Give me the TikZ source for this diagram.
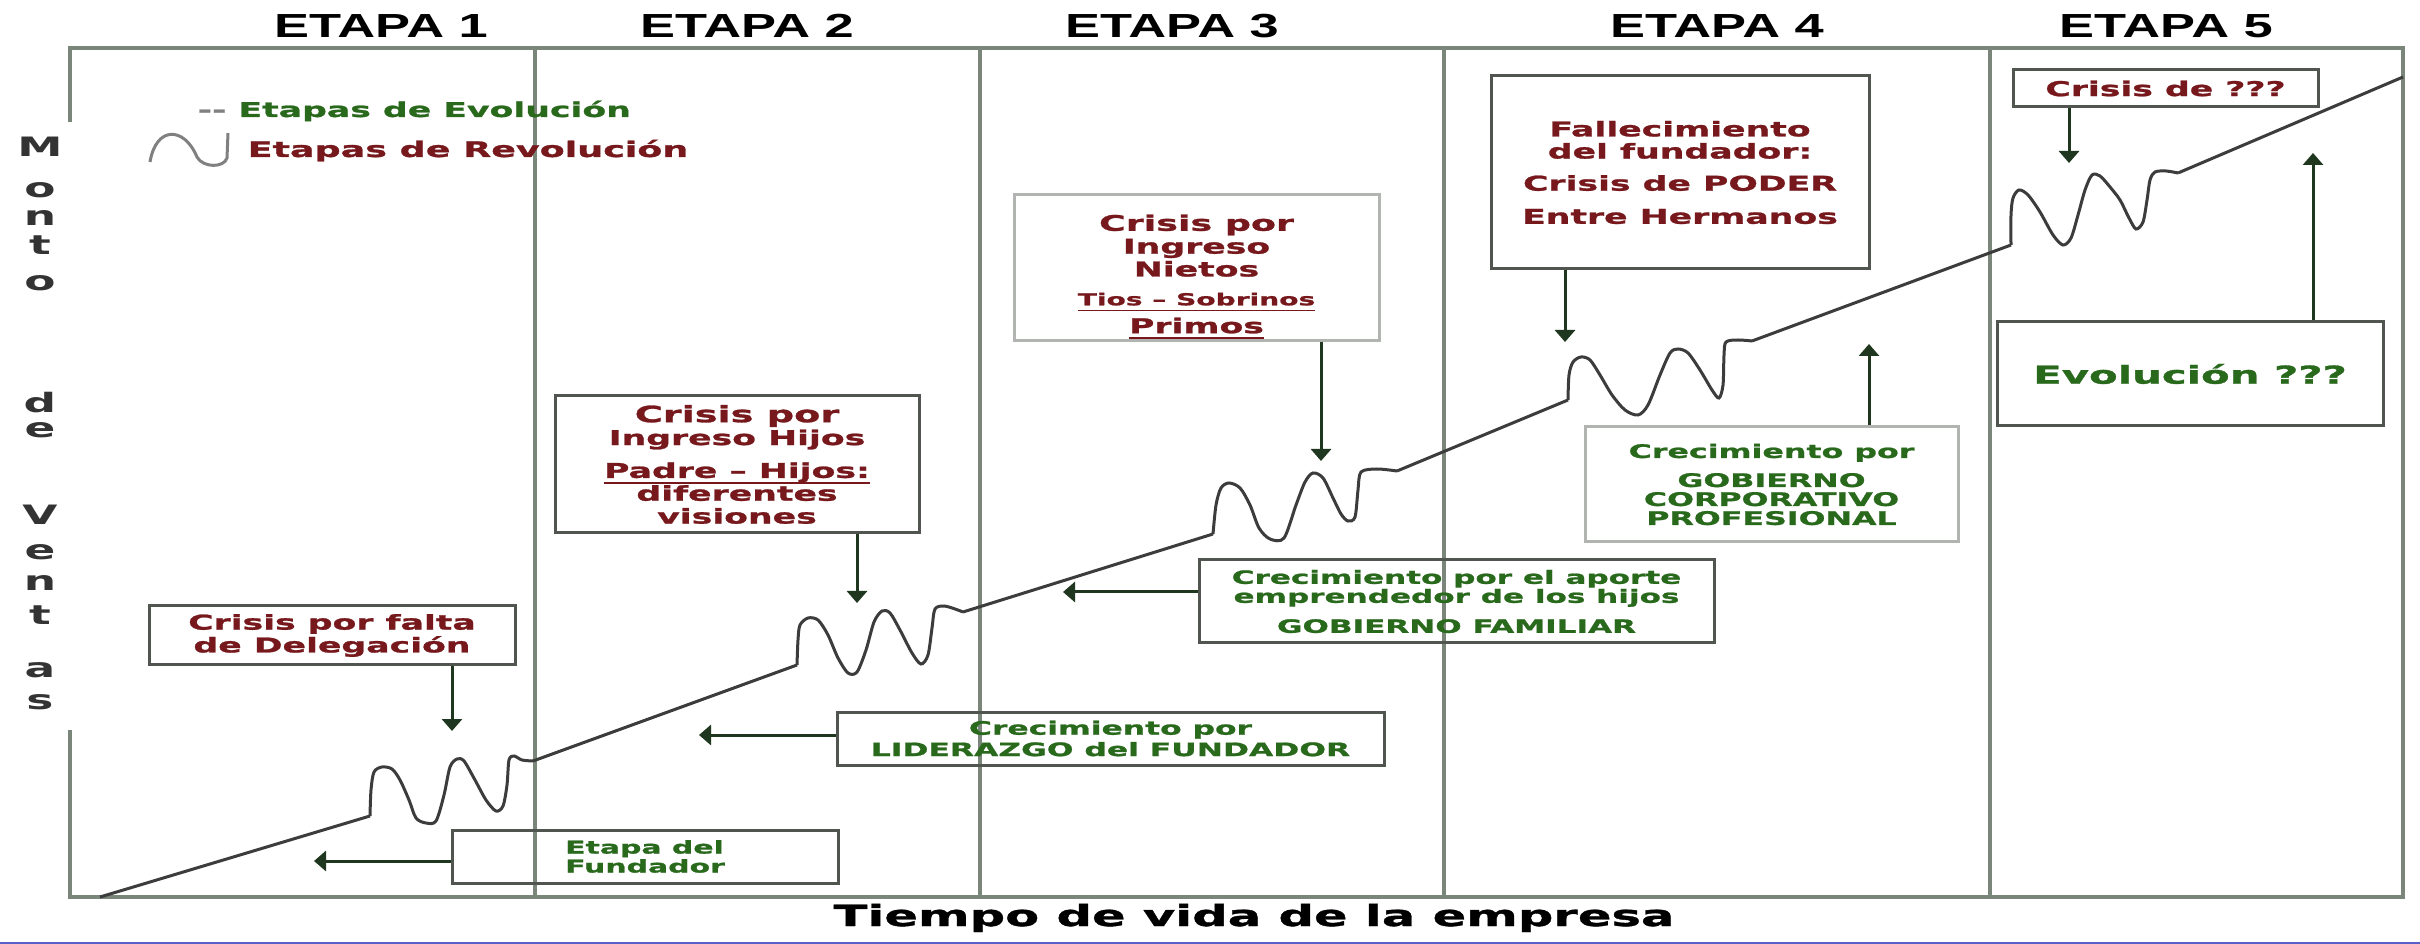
\documentclass[tikz,border=0pt]{standalone}
\usepackage{fontspec}
\newfontfamily\anchafont{DejaVu Sans}[FakeStretch=1.7, BoldFeatures={FakeBold=1.2}]
\newfontfamily\ejefont{DejaVu Sans}[FakeStretch=1.7]
\newfontfamily\etapafont{Liberation Sans}[FakeStretch=1.57]
\usetikzlibrary{arrows.meta}

\definecolor{rojotxt}{RGB}{118,24,28}
\definecolor{verdetxt}{RGB}{40,105,28}
\definecolor{grismarco}{RGB}{122,134,122}
\definecolor{griscaja}{RGB}{80,85,80}
\definecolor{grisclaro}{RGB}{178,180,178}
\definecolor{verdeosc}{RGB}{30,55,30}
\definecolor{griscurva}{RGB}{60,60,60}
\definecolor{azul}{RGB}{90,95,200}

\begin{document}
\begin{tikzpicture}[x=0.1mm, y=-0.1mm,
    marco/.style={draw=grismarco, line width=0.45mm},
    caja/.style={draw=griscaja, line width=0.3mm, inner sep=0pt, align=center},
    cajaclara/.style={caja, draw=grisclaro},
    rojo/.style={text=rojotxt, font=\anchafont\bfseries\fontsize{5.8}{6.5}\selectfont},
    verde/.style={text=verdetxt, font=\anchafont\bfseries\fontsize{5.2}{5.4}\selectfont},
    etapa/.style={anchor=base, inner sep=0pt, font=\etapafont\bfseries\fontsize{9.5}{10}\selectfont},
    eje/.style={inner sep=0pt, text=black!80, font=\ejefont\bfseries\fontsize{7.6}{8}\selectfont},
    flecha/.style={draw=verdeosc, line width=0.3mm, -{Triangle[length=1.2mm, width=2mm]}},
    curva/.style={draw=griscurva, line width=0.3mm},
  ]
  \fill[white] (0,0) rectangle (2420,944);
  \useasboundingbox (0,0) rectangle (2420,944);

  % marco y etapas
  \draw[marco] (70,122) -- (70,48) -- (2403,48) -- (2403,897) -- (70,897) -- (70,730);
  \foreach \xx in {535, 980, 1444, 1990}
    \draw[marco] (\xx,48) -- (\xx,897);
  \foreach \n/\xx in {1/381, 2/747, 3/1172, 4/1717, 5/2166}
    \node[etapa] (etapa\n) at (\xx,38) {ETAPA \n};

  % ejes
  \foreach \ch/\yy [count=\i] in {M/147, o/190, n/218, t/245, o/283, d/403, e/430,
      V/515, e/552, n/583, t/615, a/670, s/702}
    \node[eje] (eje\i) at (40,\yy) {\ch};
  \node[anchor=base, inner sep=0pt, font=\anchafont\bfseries\fontsize{8.3}{9}\selectfont]
    (tiempo) at (1254,926) {Tiempo de vida de la empresa};

  % leyenda
  \node[anchor=base west, inner sep=0pt, verde, font=\anchafont\bfseries\fontsize{5.8}{6}\selectfont]
    (evol) at (197,117) {{\color{gray}-{}-}\hspace{1.2mm}Etapas de Evolución};
  \node[anchor=base west, inner sep=0pt, rojo, font=\anchafont\bfseries\fontsize{6.1}{6.5}\selectfont]
    (revol) at (247,157) {Etapas de Revolución};
  \draw[curva, draw=gray] (150,162) .. controls (156,126) and (184,126) .. (197,157)
    .. controls (203,168) and (224,168) .. (227,158) -- (228,133);

  % curva de crecimiento
  \draw[curva] (100,897) -- (370,816);
  \draw[curva] plot[smooth, tension=0.5] coordinates {(370,816) (371,790) (374,772) (382,767)
    (392,769) (400,780) (409,800) (416,818) (426,823) (436,821) (444,795) (450,767) (457,759)
    (464,761) (475,780) (486,800) (496,811) (503,806) (507,785) (509,760) (514,756) (522,760)
    (533,761)};
  \draw[curva] (533,761) -- (797,665);
  \draw[curva] plot[smooth, tension=0.5] coordinates {(797,665) (798,640) (800,625) (808,618)
    (818,620) (828,635) (838,658) (848,673) (857,672) (866,650) (874,622) (882,611) (890,613)
    (900,630) (912,653) (921,664) (928,655) (932,628) (935,609) (944,606) (955,609) (963,612)};
  \draw[curva] (963,612) -- (1213,534);
  \draw[curva] plot[smooth, tension=0.5] coordinates {(1213,534) (1216,505) (1221,488)
    (1229,483) (1240,488) (1250,505) (1259,528) (1270,539) (1284,538) (1296,505) (1305,482)
    (1313,473) (1323,478) (1333,498) (1341,514) (1348,521) (1355,517) (1358,490) (1361,472)
    (1377,469) (1397,471)};
  \draw[curva] (1397,471) -- (1568,400);
  \draw[curva] plot[smooth, tension=0.5] coordinates {(1568,400) (1569,375) (1573,362)
    (1581,357) (1590,360) (1600,375) (1612,395) (1625,410) (1638,415) (1648,405) (1660,375)
    (1670,353) (1678,349) (1688,353) (1700,370) (1712,390) (1719,398) (1723,385) (1724,355)
    (1726,342) (1738,340) (1752,341)};
  \draw[curva] (1752,341) -- (2011,245);
  \draw[curva] plot[smooth, tension=0.5] coordinates {(2011,245) (2011,215) (2013,198)
    (2019,190) (2028,195) (2040,212) (2053,235) (2063,245) (2071,238) (2078,215) (2085,190)
    (2092,175) (2100,176) (2110,187) (2120,200) (2129,218) (2136,229) (2143,222) (2147,200)
    (2150,180) (2155,172) (2166,171) (2178,173)};
  \draw[curva] (2178,173) -- (2403,77);

  % cajas
  \node[caja, rojo, minimum width=36.6mm, minimum height=5.9mm] (b1) at (332,635.5)
    {Crisis por falta\\de Delegación};
  \node[caja, verde, align=left, font=\anchafont\bfseries\fontsize{5.0}{5.4}\selectfont,
    minimum width=38.6mm, minimum height=5.3mm] (b2) at (645,856.5) {Etapa del\\Fundador};
  \node[caja, rojo, minimum width=36.4mm, minimum height=13.7mm] (b3) at (737,464.5)
    {\fontsize{6.4}{6.4}\selectfont Crisis por\\Ingreso Hijos\\[1mm]%
     \fontsize{5.8}{6}\selectfont\underline{\smash{Padre – Hijos:}}\\diferentes\\visiones};
  \node[caja, verde, font=\anchafont\bfseries\fontsize{5.25}{4.9}\selectfont,
    minimum width=54.7mm, minimum height=5.3mm] (b4) at (1110.5,738.5)
    {Crecimiento por\\LIDERAZGO del FUNDADOR};
  \node[cajaclara, rojo, minimum width=36.5mm, minimum height=14.5mm] (b5) at (1196.5,267.5)
    {\fontsize{6.1}{6.5}\selectfont\rule{0pt}{3.6mm}Crisis por\\Ingreso\\Nietos\\[0.6mm]%
     \fontsize{4.7}{6.5}\selectfont\underline{\smash{Tios – Sobrinos}}\\[0.5mm]\underline{\smash{Primos}}};
  \node[caja, verde, minimum width=51.5mm, minimum height=8.3mm] (b6) at (1456.5,601.5)
    {Crecimiento por el aporte\\emprendedor de los hijos\\[1.1mm]GOBIERNO FAMILIAR};
  \node[caja, rojo, font=\anchafont\bfseries\fontsize{5.8}{6.3}\selectfont,
    minimum width=37.8mm, minimum height=19.3mm] (b7) at (1680,172.5)
    {Fallecimiento\\del fundador:\\[1mm]Crisis de PODER\\[1.1mm]Entre Hermanos};
  \node[cajaclara, verde, font=\anchafont\bfseries\fontsize{5.3}{5.4}\selectfont,
    minimum width=37.3mm, minimum height=11.5mm] (b8) at (1771.5,484.5)
    {Crecimiento por\\[1mm]GOBIERNO\\CORPORATIVO\\PROFESIONAL};
  \node[caja, rojo, minimum width=30.5mm, minimum height=3.7mm] (b9) at (2165.5,88.5)
    {Crisis de ???};
  \node[caja, verde, font=\anchafont\bfseries\fontsize{7}{8}\selectfont,
    minimum width=38.6mm, minimum height=10.4mm] (b10) at (2190,374) {Evolución ???};

  % flechas
  \coordinate (t1) at (452,731);
  \draw[flecha] (b1.south -| t1) -- (t1);
  \coordinate (t2) at (314,861);
  \draw[flecha] (b2.west |- t2) -- (t2);
  \coordinate (t3) at (857,603);
  \draw[flecha] (b3.south -| t3) -- (t3);
  \coordinate (t4) at (699,735);
  \draw[flecha] (b4.west |- t4) -- (t4);
  \coordinate (t5) at (1321,461);
  \draw[flecha] (b5.south -| t5) -- (t5);
  \coordinate (t6) at (1063,592);
  \draw[flecha] (b6.west |- t6) -- (t6);
  \coordinate (t7) at (1565,342);
  \draw[flecha] (b7.south -| t7) -- (t7);
  \coordinate (t8) at (1869,344);
  \draw[flecha] (b8.north -| t8) -- (t8);
  \coordinate (t9) at (2069,163);
  \draw[flecha] (b9.south -| t9) -- (t9);
  \coordinate (t10) at (2313,153);
  \draw[flecha] (b10.north -| t10) -- (t10);

  \draw[azul, line width=0.25mm] (0,943) -- (2420,943);
\end{tikzpicture}
\end{document}
